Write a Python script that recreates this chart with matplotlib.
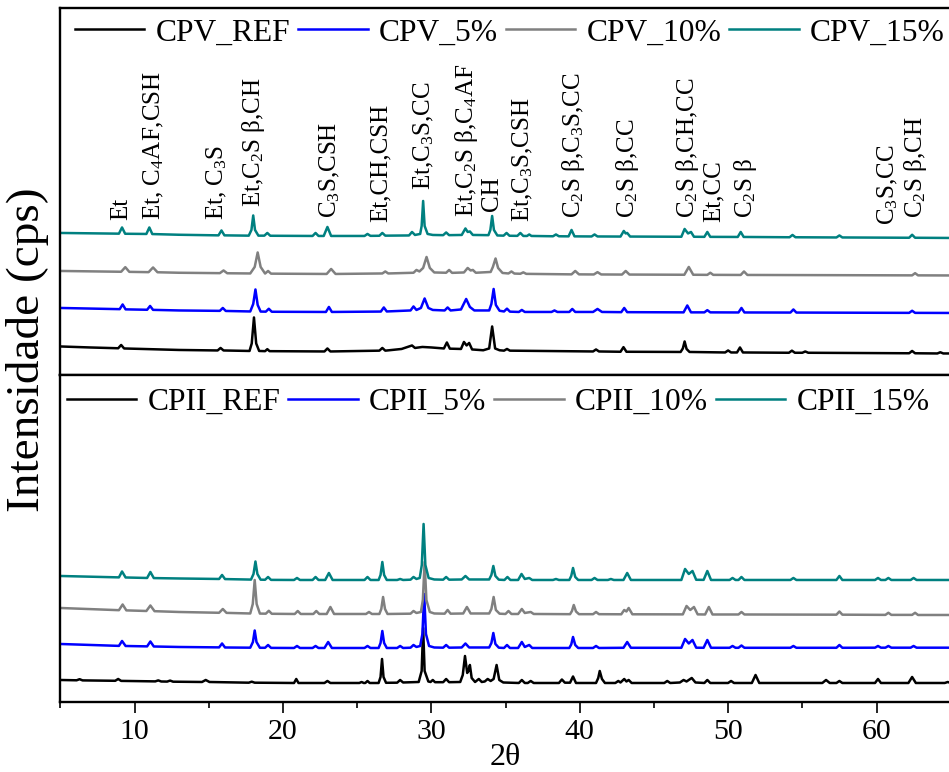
import matplotlib
matplotlib.use("Agg")
import matplotlib.pyplot as plt
from matplotlib.lines import Line2D
from matplotlib.ticker import MultipleLocator

plt.rcParams['font.family'] = ['Liberation Serif', 'DejaVu Serif']
plt.rcParams['mathtext.default'] = 'regular'

# ---------------------------------------------------------------------------
# Diffractogram outlines: (2theta, intensity above the pattern's own baseline)
# ---------------------------------------------------------------------------
cpv_ref = [(5.0, 5), (7.0, 4), (8.9, 3.2), (9.1, 6.5), (9.3, 3), (13.0, 1.5), (15.6, 1), (15.8, 3.5),
           (16.0, 1), (17.75, 0.5), (17.9, 8), (18.05, 34), (18.2, 8), (18.4, 0.5), (18.8, 0.3),
           (18.95, 2.3), (19.1, 0.3), (22.8, 0), (23.0, 3), (23.2, 0), (26.5, 0.8), (26.7, 3.5),
           (26.9, 0.8), (28.0, 2.5), (28.7, 6), (28.9, 3.5), (29.4, 4.5), (30.0, 4), (30.85, 3),
           (31.05, 9), (31.25, 2.8), (32.0, 2.5), (32.2, 9.5), (32.38, 6), (32.55, 8.5), (32.75, 2),
           (33.5, 1.2), (33.9, 3), (34.1, 25), (34.3, 3), (34.6, 1.2), (34.9, 0.8), (35.1, 2.5),
           (35.3, 0.8), (40.9, 0), (41.1, 2), (41.3, 0), (42.75, -0.3), (42.95, 4.3), (43.15, -0.3),
           (46.8, -0.5), (46.95, 3), (47.07, 10), (47.2, 2.5), (47.4, -0.5), (49.8, -1), (50.0, 1),
           (50.2, -1), (50.6, -1), (50.8, 4), (51.0, -1), (54.1, -1.3), (54.3, 0.8), (54.5, -1.3),
           (55.0, -1.3), (55.2, 0), (55.4, -1.3), (62.2, -1.8), (62.4, 0.5), (62.6, -1.8),
           (64.1, -2), (64.3, -0.8), (64.5, -2), (65.0, -2)]

cpv_5 = [(5.0, 4), (9.0, 2.8), (9.2, 7.5), (9.4, 2.6), (10.85, 2.2), (11.05, 6), (11.25, 2.1), (13.0, 1.5),
         (15.75, 1.1), (15.95, 4), (16.15, 1), (17.8, 0.5), (18.0, 8), (18.15, 22.5), (18.3, 7),
         (18.5, 0.4), (18.85, 0.3), (19.05, 3.2), (19.25, 0.2), (22.9, 0), (23.1, 5), (23.3, 0),
         (26.6, 0.4), (26.8, 4.5), (27.0, 0.5), (28.6, 1.5), (28.8, 5.5), (29.0, 2), (29.3, 4),
         (29.55, 13.5), (29.8, 4), (30.1, 2), (30.9, 1.5), (31.1, 4.5), (31.3, 1.5), (32.0, 2.5),
         (32.35, 13), (32.6, 5), (32.9, 1.5), (33.9, 1.5), (34.05, 8), (34.2, 23), (34.35, 7),
         (34.6, 1.2), (34.9, 0.5), (35.1, 3.3), (35.3, 0.3), (35.9, 0), (36.1, 2), (36.3, 0),
         (38.1, 0), (38.3, 1.5), (38.5, 0), (39.3, 0), (39.5, 3), (39.7, 0), (40.9, 0), (41.2, 3),
         (41.5, 0), (42.8, -0.2), (43.0, 4), (43.2, -0.2), (47.0, -0.4), (47.25, 6.5), (47.5, -0.4),
         (48.4, -0.4), (48.6, 1.8), (48.8, -0.4), (50.7, -0.5), (50.9, 4), (51.1, -0.5),
         (54.2, -0.6), (54.4, 2.5), (54.6, -0.6), (62.2, -0.9), (62.4, 1.2), (62.6, -0.9), (65.0, -1)]

cpv_10 = [(5.0, 3), (9.1, 2.2), (9.38, 6.8), (9.65, 2.1), (10.95, 1.8), (11.25, 6.5), (11.55, 1.7),
          (13.0, 1.2), (15.75, 0.8), (16.0, 3.5), (16.25, 0.7), (17.8, 0.5), (18.1, 7), (18.3, 21.5),
          (18.5, 7), (18.8, 0.4), (19.0, 3), (19.2, 0.3), (22.95, 0), (23.25, 5), (23.55, 0),
          (26.7, 0.5), (26.9, 2.5), (27.1, 0.5), (28.8, 1.2), (29.0, 4), (29.2, 2.5), (29.45, 6),
          (29.68, 17), (29.9, 6), (30.2, 1.5), (31.0, 1.2), (31.2, 4), (31.4, 1.1), (32.2, 1.5),
          (32.45, 6), (32.65, 3.5), (32.8, 4), (33.0, 1.2), (34.0, 2), (34.15, 7), (34.33, 15.5),
          (34.5, 6), (34.8, 1), (35.2, 0.5), (35.4, 2.5), (35.6, 0.4), (36.0, 0.2), (36.2, 1.6),
          (36.4, 0.1), (39.45, -0.4), (39.7, 3), (39.95, -0.4), (40.95, -0.5), (41.2, 1.8),
          (41.45, -0.5), (42.85, -0.6), (43.1, 3), (43.35, -0.6), (47.05, -0.8), (47.35, 7),
          (47.65, -0.8), (48.6, -0.9), (48.8, 1.2), (49.0, -0.9), (50.85, -1), (51.07, 2.5),
          (51.3, -1), (62.4, -1.4), (62.6, 0.8), (62.8, -1.4), (65.0, -1.5)]

cpv_15 = [(5.0, 3), (8.95, 2.3), (9.16, 8.5), (9.37, 2.2), (10.8, 2), (11.0, 8.5), (11.2, 1.9), (13.0, 1.2),
          (15.66, 0.6), (15.86, 5.5), (16.06, 0.6), (17.7, 0.3), (17.88, 6), (18.0, 20.5), (18.12, 6),
          (18.35, 0.3), (18.75, 0.3), (18.95, 3), (19.15, 0.2), (22.0, 0), (22.2, 3), (22.4, 0),
          (22.75, 0), (23.0, 9), (23.25, 0), (25.5, 0), (25.7, 2), (25.9, 0.1), (26.5, 0.2), (26.7, 3),
          (26.9, 0.3), (28.5, 0.5), (28.7, 4), (28.9, 1), (29.25, 2), (29.35, 10), (29.45, 35),
          (29.55, 10), (29.75, 2), (30.1, 1), (30.8, 0.8), (31.0, 3.5), (31.2, 0.8), (32.05, 1),
          (32.3, 7.5), (32.45, 4), (32.6, 4.5), (32.8, 1), (33.85, 0.8), (33.98, 6), (34.1, 20),
          (34.22, 6), (34.45, 0.5), (34.87, 0.3), (35.07, 3), (35.27, 0.2), (35.8, 0.1), (36.0, 3),
          (36.2, 0), (36.45, 0), (36.6, 1.5), (36.75, 0), (38.2, -0.3), (38.4, 1.5), (38.6, -0.3),
          (39.25, -0.4), (39.45, 6), (39.65, -0.4), (40.8, -0.5), (41.0, 1.5), (41.2, -0.5),
          (42.75, -0.6), (42.97, 5), (43.1, 2.5), (43.2, 3), (43.4, -0.6), (46.85, -0.8), (47.07, 7),
          (47.3, 2.5), (47.5, 4), (47.7, -0.8), (48.4, -0.9), (48.6, 4), (48.8, -0.9), (50.65, -1),
          (50.85, 4), (51.05, -1), (54.14, -1.3), (54.34, 1), (54.54, -1.3), (57.3, -1.5), (57.5, 0.5),
          (57.7, -1.5), (62.2, -1.8), (62.4, 1.2), (62.6, -1.8), (65.0, -2)]

cpii_ref = [(5.0, 3), (6.1, 2.7), (6.3, 3.8), (6.5, 2.6), (8.7, 2.2), (8.9, 4), (9.1, 2.1), (11.4, 1.6),
            (11.6, 2.6), (11.8, 1.5), (12.2, 1.4), (12.4, 2.4), (12.6, 1.3), (14.55, 1), (14.8, 3),
            (15.05, 1), (17.7, 0.3), (17.9, 1.3), (18.1, 0.3), (20.75, 0), (20.9, 4), (21.05, 0),
            (22.8, 0), (23.0, 2), (23.2, 0), (25.15, 0), (25.3, 1), (25.45, 0), (25.55, 0), (25.7, 2),
            (25.85, 0), (26.45, 0), (26.58, 6), (26.68, 24), (26.78, 6), (26.95, 0.2), (27.7, 0.3),
            (27.9, 3), (28.1, 0.5), (29.15, 1), (29.35, 12), (29.45, 55), (29.55, 12), (29.8, 1.5),
            (29.95, 1), (30.1, 3), (30.25, 0.8), (30.8, 0.8), (31.0, 4), (31.2, 0.8), (31.95, 1),
            (32.12, 8), (32.27, 27), (32.42, 10), (32.5, 12), (32.6, 18), (32.72, 5), (32.95, 1),
            (33.2, 4), (33.4, 1), (33.6, 1.5), (33.8, 4), (34.0, 2), (34.2, 4), (34.4, 18), (34.58, 3),
            (34.85, 0.5), (35.9, 0), (36.1, 3), (36.3, 0), (36.5, 0), (36.7, 2), (36.9, 0), (38.6, 0),
            (38.8, 3.5), (39.0, 0.3), (39.35, 0.3), (39.55, 6.5), (39.75, 0), (41.1, 0), (41.25, 5),
            (41.35, 12), (41.5, 4), (41.7, 0), (42.4, 0), (42.6, 2), (42.75, 0.5), (43.0, 4),
            (43.15, 1.5), (43.3, 3), (43.5, 0), (45.7, 0), (45.9, 2), (46.1, 0), (46.75, 0.5),
            (47.0, 3), (47.2, 1.5), (47.55, 5), (47.8, 0.5), (48.4, 0), (48.6, 3), (48.8, 0),
            (50.0, 0), (50.2, 2), (50.4, 0), (51.6, 0), (51.85, 8), (52.1, 0), (56.35, 0), (56.6, 3),
            (56.85, 0), (57.3, 0), (57.5, 2), (57.7, 0), (59.9, 0), (60.1, 4), (60.3, 0), (62.15, 0),
            (62.4, 6), (62.65, 0), (64.6, 0), (64.8, 1), (65.0, 0)]

cpii_5 = [(5.0, 4), (8.95, 2.1), (9.16, 7), (9.4, 2), (10.85, 1.6), (11.07, 6.5), (11.3, 1.5), (13.0, 1),
          (15.7, 0.6), (15.9, 4.5), (16.1, 0.5), (17.8, 0.3), (17.98, 6), (18.1, 17.5), (18.22, 6),
          (18.45, 0.2), (18.8, 0.2), (19.0, 3), (19.2, 0.1), (20.75, 0), (20.95, 2), (21.15, 0),
          (22.0, 0), (22.2, 2), (22.4, 0), (22.8, 0), (23.05, 6), (23.3, 0), (25.5, 0), (25.7, 2),
          (25.9, 0), (26.45, 0), (26.58, 5), (26.7, 17), (26.82, 5), (27.0, 0), (27.7, 0), (27.9, 2),
          (28.1, 0), (28.6, 0.3), (28.8, 3), (29.0, 1), (29.25, 2), (29.4, 14), (29.52, 54),
          (29.64, 14), (29.85, 2), (30.2, 0.5), (30.8, 0.3), (31.0, 3), (31.2, 0.3), (32.05, 0.5),
          (32.3, 4.5), (32.55, 0.5), (33.9, 0.5), (34.05, 5), (34.18, 15), (34.32, 4), (34.55, 0.3),
          (34.9, 0), (35.1, 3), (35.3, 0), (35.85, 0), (36.1, 6), (36.3, 1), (36.6, 3), (36.8, 0),
          (39.3, 0), (39.43, 3.5), (39.55, 11), (39.7, 3), (39.9, 0), (40.9, 0), (41.1, 2), (41.3, 0),
          (42.95, 0.2), (43.2, 6), (43.45, 0.2), (46.85, 0.2), (47.1, 9), (47.35, 4.5), (47.6, 8),
          (47.85, 0.3), (48.35, 0.2), (48.6, 8), (48.85, 0.2), (50.1, 0.2), (50.3, 2), (50.5, 0.2),
          (50.7, 0.2), (50.9, 2.5), (51.1, 0.2), (54.2, 0.2), (54.4, 2), (54.6, 0.2), (57.3, 0.2),
          (57.5, 3), (57.7, 0.2), (59.9, 0.3), (60.1, 2), (60.3, 0.3), (60.6, 0.3), (60.8, 2),
          (61.0, 0.3), (62.3, 0.3), (62.5, 2), (62.7, 0.3), (65.0, 0.3)]

cpii_10 = [(5.0, 6), (8.95, 3.8), (9.2, 9.5), (9.45, 3.6), (10.8, 3), (11.07, 8.5), (11.35, 2.8), (13.0, 2),
           (15.7, 1.2), (15.95, 5), (16.2, 1.1), (17.8, 0.5), (17.97, 10), (18.1, 34), (18.23, 10),
           (18.45, 0.4), (18.85, 0.3), (19.05, 3.2), (19.25, 0.2), (20.8, 0), (21.0, 3), (21.2, 0),
           (22.05, 0), (22.25, 3), (22.45, 0), (22.95, 0), (23.2, 7), (23.45, 0), (25.6, 0), (25.8, 2),
           (26.0, 0), (26.5, 0), (26.63, 5), (26.75, 17), (26.88, 5), (27.05, 0), (28.6, 0.3),
           (28.8, 3), (29.0, 1), (29.3, 2), (29.43, 14), (29.55, 52), (29.67, 14), (29.9, 2),
           (30.2, 0.5), (30.9, 0.3), (31.1, 4), (31.3, 0.3), (32.15, 0.5), (32.4, 7), (32.65, 0.5),
           (33.9, 0.5), (34.05, 5), (34.2, 17), (34.35, 4), (34.6, 0.3), (35.0, 0), (35.2, 3),
           (35.4, 0), (35.85, 0), (36.1, 5), (36.3, 1), (36.7, 2), (36.9, 0), (39.35, -0.2),
           (39.48, 3), (39.6, 9), (39.75, 2.5), (39.95, -0.2), (40.9, -0.2), (41.1, 2), (41.3, -0.2),
           (42.8, -0.3), (43.0, 4), (43.15, 2.5), (43.3, 6), (43.55, -0.3), (46.95, -0.4), (47.2, 8),
           (47.45, 4), (47.7, 7), (47.95, -0.4), (48.45, -0.5), (48.7, 7), (48.95, -0.5), (50.7, -0.5),
           (50.9, 2), (51.1, -0.5), (57.3, -0.7), (57.5, 2.5), (57.7, -0.7), (60.6, -0.9), (60.8, 1.2),
           (61.0, -0.9), (62.4, -0.9), (62.6, 1.2), (62.8, -1), (65.0, -1)]

cpii_15 = [(5.0, 4), (8.95, 2.6), (9.16, 8.5), (9.4, 2.5), (10.85, 2), (11.07, 8), (11.3, 1.9), (13.0, 1.5),
           (15.7, 1), (15.9, 5), (16.1, 0.9), (17.85, 0.4), (18.02, 6), (18.15, 18.5), (18.28, 6),
           (18.5, 0.3), (18.8, 0.2), (19.0, 3), (19.2, 0.1), (20.75, 0), (20.95, 2), (21.15, 0),
           (22.0, 0), (22.2, 3), (22.4, 0), (22.85, 0), (23.1, 7), (23.35, 0), (25.5, 0), (25.7, 3),
           (25.9, 0), (26.45, 0), (26.58, 5), (26.7, 18), (26.82, 5), (27.0, 0), (27.7, 0), (27.9, 1),
           (28.1, 0), (28.6, 0.3), (28.8, 3), (29.0, 1), (29.22, 2), (29.36, 15), (29.48, 56),
           (29.6, 15), (29.82, 2), (30.2, 0.5), (30.8, 0.3), (31.0, 3), (31.2, 0.3), (32.05, 0.5),
           (32.3, 4), (32.55, 0.5), (33.9, 0.5), (34.05, 5), (34.18, 14), (34.32, 4), (34.55, 0.3),
           (34.93, 0), (35.13, 3), (35.33, 0), (35.85, 0), (36.08, 6), (36.3, 1), (36.6, 2), (36.8, 0),
           (38.2, 0), (38.4, 1), (38.6, 0), (39.3, 0), (39.43, 4), (39.55, 12), (39.7, 3), (39.9, 0),
           (40.8, 0), (41.0, 2), (41.2, 0), (41.9, 0), (42.1, 1), (42.3, 0), (42.95, 0), (43.2, 7),
           (43.45, 0), (46.85, 0), (47.1, 11), (47.35, 6), (47.6, 9), (47.85, 0.2), (48.35, 0.1),
           (48.6, 9), (48.85, 0), (50.1, 0), (50.3, 2), (50.5, 0), (50.7, 0), (50.9, 3), (51.1, 0),
           (54.2, 0), (54.4, 2), (54.6, 0), (57.3, 0), (57.5, 4), (57.7, 0), (59.9, 0), (60.1, 2),
           (60.3, 0), (60.6, 0), (60.8, 2), (61.0, 0), (62.3, 0), (62.5, 2), (62.7, 0), (65.0, 0)]

cpv_names = ['CPV_REF', 'CPV_5%', 'CPV_10%', 'CPV_15%']
cpii_names = ['CPII_REF', 'CPII_5%', 'CPII_10%', 'CPII_15%']

# Phase identification above the CPV patterns
phase_pos = [9.09, 11.3, 15.57, 18.0, 23.2, 26.58, 29.5, 32.4, 34.1, 36.2, 39.6, 43.2, 47.25,
             49.0, 51.2, 60.75, 62.65]
phase_labels = ['Et', 'Et, C$_4$AF,CSH', 'Et, C$_3$S', 'Et,C$_2$S β,CH', 'C$_3$S,CSH', 'Et,CH,CSH',
                'Et,C$_3$S,CC', 'Et,C$_2$S β,C$_4$AF', 'CH', 'Et,C$_3$S,CSH', 'C$_2$S β,C$_3$S,CC',
                'C$_2$S β,CC', 'C$_2$S β,CH,CC', 'Et,CC', 'C$_2$S β', 'C$_3$S,CC', 'C$_2$S β,CH']

# ---------------------------------------------------------------------------
# Layout / style
# ---------------------------------------------------------------------------
colors = ['#000000', '#0000ff', '#808080', '#008080']
top_offsets = [23.5, 63.0, 101.0, 139.0]
bot_offsets = [19.3, 54.3, 88.3, 122.3]
label_base = [155, 155, 155, 168, 157, 153, 185, 158, 164, 153, 157, 157, 157, 153, 157, 150, 157]
lw = 1.8

fig = plt.figure(figsize=(9.49, 7.72), dpi=100)
left, width = 60.3 / 949, 890.4 / 949
ax_top = fig.add_axes([left, 0.5143, width, 0.4754])
ax_bot = fig.add_axes([left, 0.0903, width, 0.4240])


def draw_stack(ax, patterns, names, offsets, ymax):
    handles = []
    for pat, name, off, c in zip(patterns, names, offsets, colors):
        x, y = zip(*pat)
        ax.plot(x, [v + off for v in y], color=c, lw=lw, solid_joinstyle='round')
        handles.append(Line2D([], [], color=c, lw=lw))
    ax.set_xlim(5, 65)
    ax.set_ylim(0, ymax)
    ax.set_yticks([])
    for s in ax.spines.values():
        s.set_linewidth(1.7)
    ax.spines['right'].set_visible(False)
    return handles


h_top = draw_stack(ax_top, [cpv_ref, cpv_5, cpv_10, cpv_15], cpv_names, top_offsets, 367)
h_bot = draw_stack(ax_bot, [cpii_ref, cpii_5, cpii_10, cpii_15], cpii_names, bot_offsets, 327.3)

ax_top.tick_params(axis='x', which='both', bottom=False, labelbottom=False)

ax_bot.xaxis.set_major_locator(MultipleLocator(10))
ax_bot.xaxis.set_minor_locator(MultipleLocator(5))
ax_bot.tick_params(axis='x', which='major', direction='out', length=8, width=1.2, pad=4,
                   labelsize=21.5)
ax_bot.tick_params(axis='x', which='minor', direction='out', length=4.5, width=1.2)
ax_bot.set_xlabel('2θ', fontsize=23)
ax_bot.xaxis.set_label_coords(0.5, -0.125)

for xp, txt, yb in zip(phase_pos, phase_labels, label_base):
    ax_top.text(xp, yb, txt, rotation=90, ha='center', va='bottom', fontsize=18)

leg_kw = dict(loc='upper left', ncol=4, frameon=False, fontsize=22.7, handlelength=2.2,
              handletextpad=0.35, columnspacing=0.26, borderpad=0, borderaxespad=0)
ax_top.legend(h_top, cpv_names, bbox_to_anchor=(0.0165, 0.972), **leg_kw)
ax_bot.legend(h_bot, cpii_names, bbox_to_anchor=(0.0075, 0.961), **leg_kw)

fig.text(28 / 949, 1 - 350 / 772, 'Intensidade (cps)', rotation=90, ha='center', va='center',
         fontsize=34)

fig.savefig('out.png', dpi=100)
